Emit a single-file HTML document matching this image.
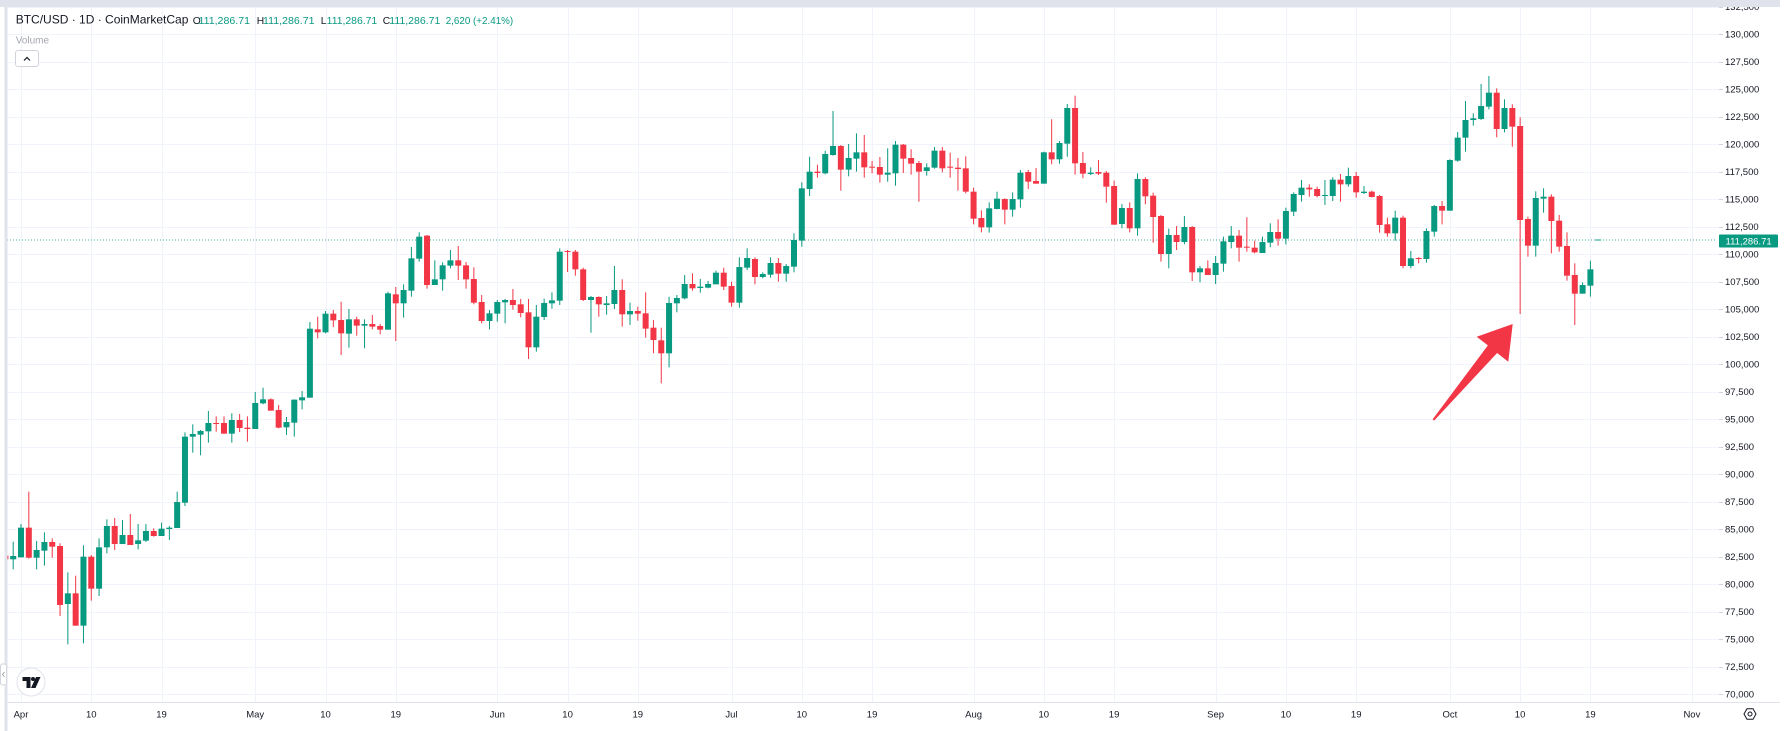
<!DOCTYPE html>
<html>
<head>
<meta charset="utf-8">
<style>
  html,body{margin:0;padding:0;background:#ffffff;}
  svg{display:block;}
  text{font-family:"Liberation Sans",Arial,sans-serif;}
</style>
</head>
<body>
<svg id="s" xmlns="http://www.w3.org/2000/svg" width="1785" height="731" viewBox="0 0 1785 731">
  <defs>
    <clipPath id="pane"><rect x="7.5" y="7" width="1711.5" height="695"/></clipPath>
  </defs>
  <rect x="0" y="0" width="1785" height="731" fill="#ffffff"/>
  <g id="grid"></g>
  <line x1="7" y1="240" x2="1717" y2="240" stroke="#089981" stroke-width="1" stroke-dasharray="1 2" opacity="0.75"/>
  <g id="candles" clip-path="url(#pane)"></g>

  <!-- arrow -->
  <polygon points="1512.7,324 1476.7,336.7 1487.9,345.4 1432.6,419.4 1434.1,420.6 1497.1,353.0 1508.3,361.7" fill="#f23645"/>

  <!-- price axis labels -->
  <g font-size="9.5" fill="#131722">
    <text x="1725" y="9.9">132,500</text>
    <text x="1725" y="37.4">130,000</text>
    <text x="1725" y="64.9">127,500</text>
    <text x="1725" y="92.4">125,000</text>
    <text x="1725" y="119.9">122,500</text>
    <text x="1725" y="147.4">120,000</text>
    <text x="1725" y="174.9">117,500</text>
    <text x="1725" y="202.4">115,000</text>
    <text x="1725" y="229.9">112,500</text>
    <text x="1725" y="257.4">110,000</text>
    <text x="1725" y="284.9">107,500</text>
    <text x="1725" y="312.4">105,000</text>
    <text x="1725" y="339.9">102,500</text>
    <text x="1725" y="367.4">100,000</text>
    <text x="1725" y="394.9">97,500</text>
    <text x="1725" y="422.4">95,000</text>
    <text x="1725" y="449.9">92,500</text>
    <text x="1725" y="477.4">90,000</text>
    <text x="1725" y="504.9">87,500</text>
    <text x="1725" y="532.4">85,000</text>
    <text x="1725" y="559.9">82,500</text>
    <text x="1725" y="587.4">80,000</text>
    <text x="1725" y="614.9">77,500</text>
    <text x="1725" y="642.4">75,000</text>
    <text x="1725" y="669.9">72,500</text>
    <text x="1725" y="697.4">70,000</text>
  </g>

  <!-- last price label -->
  <rect x="1719" y="234.5" width="59" height="13" fill="#089981" rx="1"/>
  <text x="1725.5" y="244.4" font-size="9.5" fill="#ffffff">111,286.71</text>

  <!-- top band & left strip -->
  <rect x="0" y="0" width="1780" height="7" fill="#e0e3eb"/>
  <rect x="4.5" y="0" width="3" height="731" fill="#e0e3eb"/>

  <!-- x axis line -->
  <line x1="7" y1="702.5" x2="1780" y2="702.5" stroke="#e0e3eb" stroke-width="1"/>

  <!-- time labels -->
  <g font-size="9.5" fill="#131722" text-anchor="middle">
    <text x="21" y="717.5">Apr</text>
    <text x="91.3" y="717.5">10</text>
    <text x="161.5" y="717.5">19</text>
    <text x="255.2" y="717.5">May</text>
    <text x="325.5" y="717.5">10</text>
    <text x="395.8" y="717.5">19</text>
    <text x="497.3" y="717.5">Jun</text>
    <text x="567.6" y="717.5">10</text>
    <text x="637.8" y="717.5">19</text>
    <text x="731.5" y="717.5">Jul</text>
    <text x="801.8" y="717.5">10</text>
    <text x="872.1" y="717.5">19</text>
    <text x="973.6" y="717.5">Aug</text>
    <text x="1043.8" y="717.5">10</text>
    <text x="1114.1" y="717.5">19</text>
    <text x="1215.6" y="717.5">Sep</text>
    <text x="1285.9" y="717.5">10</text>
    <text x="1356.2" y="717.5">19</text>
    <text x="1449.9" y="717.5">Oct</text>
    <text x="1520.1" y="717.5">10</text>
    <text x="1590.4" y="717.5">19</text>
    <text x="1691.9" y="717.5">Nov</text>
  </g>

  <!-- gear icon -->
  <g transform="translate(1750,714)" fill="none" stroke="#131722" stroke-width="1">
    <polygon points="6,0 3,5.2 -3,5.2 -6,0 -3,-5.2 3,-5.2"/>
    <circle cx="0" cy="0" r="2"/>
  </g>

  <!-- header -->
  <text x="15.7" y="23.3" font-size="12" fill="#131722">BTC/USD · 1D · CoinMarketCap</text>
  <g font-size="10.3">
    <text x="192.7" y="24" fill="#131722">O</text>
    <text x="198.5" y="24" fill="#089981" textLength="51.5" lengthAdjust="spacingAndGlyphs">111,286.71</text>
    <text x="256.7" y="24" fill="#131722">H</text>
    <text x="263" y="24" fill="#089981" textLength="51.5" lengthAdjust="spacingAndGlyphs">111,286.71</text>
    <text x="320.7" y="24" fill="#131722">L</text>
    <text x="326.7" y="24" fill="#089981" textLength="50.5" lengthAdjust="spacingAndGlyphs">111,286.71</text>
    <text x="382.7" y="24" fill="#131722">C</text>
    <text x="389.3" y="24" fill="#089981" textLength="51" lengthAdjust="spacingAndGlyphs">111,286.71</text>
    <text x="445.7" y="24" fill="#089981" textLength="67.5" lengthAdjust="spacingAndGlyphs">2,620 (+2.41%)</text>
  </g>
  <text x="15.7" y="43.3" font-size="10" fill="#a3a6af">Volume</text>
  <rect x="15.5" y="50.5" width="23" height="16" rx="2.5" fill="#ffffff" stroke="#d1d4dc" stroke-width="1"/>
  <polyline points="24,60.5 27,57.5 30,60.5" fill="none" stroke="#131722" stroke-width="1.2"/>

  <!-- TV logo -->
  <circle cx="31" cy="682" r="14" fill="#ffffff" stroke="#e0e3eb" stroke-width="1"/>
  <path d="M22.5,677 H30.5 V688 H26.5 V681 H22.5 Z" fill="#131722"/>
  <circle cx="33" cy="679" r="2" fill="#131722"/>
  <path d="M36,677 H40.5 L35.5,688 H31 Z" fill="#131722"/>

  <!-- left tab -->
  <rect x="0.5" y="664" width="6" height="21" rx="2" fill="#ffffff" stroke="#d1d4dc" stroke-width="1"/>
  <polyline points="4.5,672 2.5,674.5 4.5,677" fill="none" stroke="#9598a1" stroke-width="0.8"/>
</svg>

<script>
(function(){
  var NS='http://www.w3.org/2000/svg';
  function el(tag, attrs, parent){
    var e=document.createElementNS(NS,tag);
    for(var k in attrs) e.setAttribute(k,attrs[k]);
    parent.appendChild(e); return e;
  }
  function X(d){return 21+7.808*d;}
  var grid=document.getElementById('grid');
  [0,9,18,30,39,48,61,70,79,91,100,109,122,131,140,153,162,171,183,192,201,214].forEach(function(d){
    var x=Math.round(X(d))+0.5;
    el('line',{x1:x,x2:x,y1:7,y2:702,stroke:'#f0f3fa','stroke-width':1},grid);
  });
  for(var p=70000;p<=132500;p+=2500){
    var y=Math.round(34+(130000-p)*0.011)+0.5;
    el('line',{x1:7,x2:1719,y1:y,y2:y,stroke:'#f0f3fa','stroke-width':1},grid);
    el('line',{x1:1719,x2:1723,y1:y,y2:y,stroke:'#d1d4dc','stroke-width':1},grid);
  }

  var segs=[
   {off:320,data:[
    [-2,'r',707,718,700,720],[-1,'g',708,718,665,748],[0,'g',623,712,612,712],[1,'r',623,713,515,716],
    [2,'g',690,713,663,748],[3,'g',666,692,637,737],[4,'r',666,680,655,713],[5,'r',678,855,670,888],
    [6,'g',820,852,757,973],[7,'r',820,917,767,917],[8,'g',710,917,676,970],[9,'r',710,806,705,842],
    [10,'g',682,806,655,828],[11,'g',618,682,598,700],[12,'r',618,672,594,690],[13,'g',645,672,600,672],
    [14,'r',645,675,582,675],[15,'g',661,672,612,688],[16,'g',633,662,612,666],[17,'r',633,648,625,650],
    [18,'g',626,648,608,648],[19,'g',623,627,618,660],[20,'g',546,624,515,624],[21,'g',350,548,337,558],
    [22,'g',342,350,313,398],[23,'g',333,344,330,406],[24,'g',309,334,273,368],[25,'r',309,312,289,335],
    [26,'r',309,341,289,341],[27,'g',300,341,280,368],[28,'r',300,324,282,336],[29,'r',323,327,289,365],
    [30,'g',249,327,216,327],[31,'g',238,250,203,253],[32,'r',238,272,235,272],[33,'r',270,323,255,325],
    [34,'g',306,322,291,345],[35,'g',239,308,238,350],[36,'g',232,241,213,268],[37,'g',26,233,6,233],
    [38,'r',28,37,-10,55],[39,'g',-19,37,-27,40],[40,'r',-19,1,-30,21]
   ]},
   {off:180,data:[
    [41,'r',420,460,365,525],[42,'g',418,461,387,503],[43,'r',418,437,410,467],[44,'g',432,437,418,505],
    [45,'r',432,440,405,448],[46,'r',438,449,432,463],[47,'g',340,449,335,449],[48,'r',343,370,321,483],
    [49,'g',330,370,313,413],[50,'g',235,332,201,350],[51,'g',170,236,157,245],[52,'r',167,315,165,326],
    [53,'g',298,315,241,315],[54,'g',256,298,247,332],[55,'g',241,257,210,265],[56,'r',241,257,198,300],
    [57,'r',256,298,246,326],[58,'r',297,368,262,373],[59,'r',366,423,345,430],[60,'g',400,423,390,448],
    [61,'g',366,401,360,425],[62,'g',360,367,357,430],[63,'r',360,375,327,389],[64,'r',373,399,357,412],
    [65,'r',397,502,357,537],[66,'g',410,502,375,515],[67,'g',369,411,356,420],[68,'g',361,370,337,386],
    [69,'g',215,362,205,375],[70,'r',213,216,210,276],[71,'r',215,268,210,287],[72,'r',268,360,263,363],
    [73,'g',351,360,348,458],[74,'r',351,373,349,410],[75,'g',370,375,348,404],[76,'g',330,372,258,387],
    [77,'r',330,403,298,440],[78,'g',393,403,368,435],[79,'r',393,401,380,422],[80,'r',400,446,337,473],
    [81,'r',443,480,420,520],[82,'r',481,520,443,610],[83,'g',369,520,350,562],[84,'g',354,370,345,397],
    [85,'g',312,355,285,358],[86,'r',312,325,280,332],[87,'g',320,324,297,338],[88,'g',312,323,303,325],
    [89,'g',278,313,272,313]
   ]},
   {off:85,data:[
    [90,'r',563,605,548,615],[91,'r',603,653,590,665],[92,'g',546,653,517,668],[93,'g',519,548,490,555],
    [94,'r',522,576,517,598],[95,'g',567,576,562,580],[96,'g',534,569,517,578],[97,'r',534,566,519,590],
    [98,'g',543,566,537,590],[99,'g',465,545,445,562],[100,'g',310,467,292,485],[101,'g',260,312,215,333],
    [102,'r',260,264,239,278],[103,'g',207,265,197,268],[104,'g',183,210,78,212],[105,'r',183,254,180,317],
    [106,'g',219,254,177,274],[107,'g',202,221,145,260],[108,'r',202,247,150,278],[109,'r',245,248,228,265],
    [110,'r',246,269,216,293],[111,'g',263,269,190,290],[112,'g',179,265,168,302],[113,'r',179,221,177,264],
    [114,'r',219,236,193,269],[115,'r',234,260,228,350],[116,'g',247,258,235,272],[117,'g',197,248,186,251],
    [118,'r',197,250,186,262],[119,'r',245,248,203,278],[120,'r',248,252,219,317],[121,'r',250,320,214,325],
    [122,'r',320,401,308,418],[123,'r',399,427,376,442],[124,'g',370,427,352,443],[125,'g',341,372,320,373]
   ]},
   {off:80,data:[
    [126,'r',357,389,355,433],[127,'g',357,389,337,410],[128,'g',278,358,270,383],[129,'r',276,305,270,327],
    [130,'r',303,311,264,311],[131,'g',217,311,215,311],[132,'r',217,238,118,253],[133,'g',189,238,183,251],
    [134,'g',84,191,72,230],[135,'r',84,250,47,284],[136,'r',249,281,216,295],[137,'g',278,282,262,285],
    [138,'r',276,281,240,285],[139,'r',278,320,273,368],[140,'r',318,434,302,434],[141,'g',384,432,372,445],
    [142,'r',384,445,367,457],[143,'g',297,445,280,467],[144,'r',297,349,292,373],[145,'r',347,411,338,488],
    [146,'r',408,522,405,545],[147,'g',465,522,446,565],[148,'r',465,486,438,510],[149,'g',441,486,408,493],
    [150,'r',441,577,438,603],[151,'g',565,577,558,607],[152,'r',565,585,541,585],[153,'g',549,585,528,612],
    [154,'g',484,551,470,575],[155,'g',467,486,438,505],[156,'r',467,503,450,545],[157,'r',500,503,412,515],
    [158,'r',503,517,482,520],[159,'g',486,519,470,519],[160,'g',456,488,430,502],[161,'r',456,476,418,497],
    [162,'g',393,476,383,493],[163,'g',342,395,337,408]
   ]},
   {off:70,data:[
    [164,'g',353,375,330,395],[165,'r',353,358,343,380],[166,'r',357,378,350,382],[167,'g',375,378,330,405],
    [168,'g',329,378,322,393],[169,'r',329,343,312,395],[170,'g',318,343,293,350],[171,'r',318,367,306,383],
    [172,'g',365,369,348,372],[173,'r',365,381,362,382],[174,'r',378,465,375,488],[175,'r',463,490,443,500],
    [176,'g',443,490,422,512],[177,'r',443,588,437,595],[178,'g',565,588,543,595],[179,'r',564,567,562,580],
    [180,'g',483,567,475,578],[181,'g',408,485,405,500],[182,'r',408,422,393,463],[183,'g',270,422,268,422],
    [184,'g',203,272,186,275],[185,'g',150,203,93,245],[186,'g',145,150,130,167],[187,'g',108,147,42,150],
    [188,'g',68,110,18,118],[189,'r',68,177,55,202],[190,'g',114,177,88,187],[191,'r',114,170,103,230],
    [192,'r',168,450,142,732],[193,'r',447,527,440,560],[194,'g',384,527,364,560],[195,'g',380,386,355,428],
    [196,'r',380,453,373,550],[197,'r',452,530,435,545],[198,'r',528,617,487,632],[199,'r',615,671,580,765],
    [200,'g',645,671,637,671],[201,'g',598,647,572,680]
   ]}
  ];
  var cg=document.getElementById('candles');
  segs.forEach(function(s){
    s.data.forEach(function(c){
      var cx=X(c[0]);
      var col=c[1]==='g'?'#089981':'#f23645';
      var bt=s.off+c[2]/3, bb=s.off+c[3]/3, wt=s.off+c[4]/3, wb=s.off+c[5]/3;
      el('rect',{x:(cx-0.5).toFixed(2),y:wt.toFixed(2),width:1,height:Math.max(wb-wt,1).toFixed(2),fill:col},cg);
      el('rect',{x:(cx-3).toFixed(2),y:bt.toFixed(2),width:6,height:Math.max(bb-bt,1).toFixed(2),fill:col},cg);
    });
  });
  // current (Oct 20) flat candle
  el('rect',{x:(X(202)-3).toFixed(2),y:239.5,width:6,height:1,fill:'#089981'},cg);
})();
</script>
</body>
</html>
